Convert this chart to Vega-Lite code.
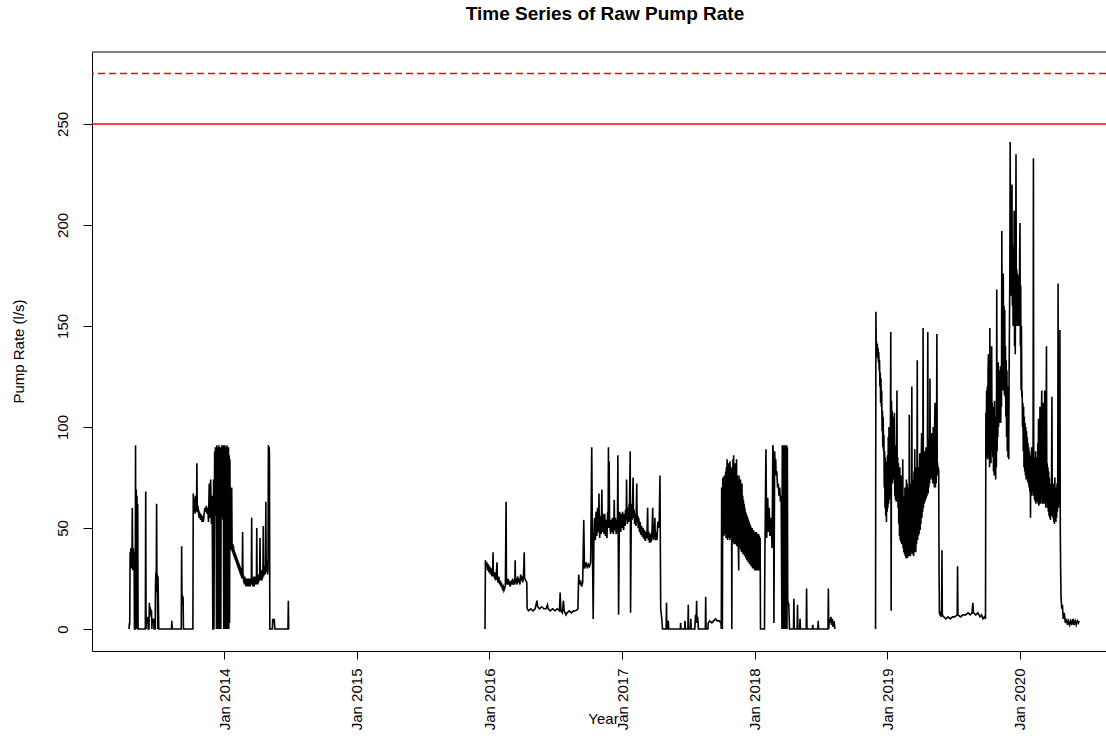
{
"$schema":"https://vega.github.io/schema/vega-lite/v6.json",
"autosize":{"type":"none"},
"padding":{"left":92,"top":52,"right":0,"bottom":85},
"width":1014,"height":599,
"background":"white",
"title":{"text":"Time Series of Raw Pump Rate","font":"Liberation Sans","fontSize":19,"fontWeight":"bold","color":"black","anchor":"middle","offset":27,"dx":6},
"config":{"view":{"stroke":null},"font":"Liberation Sans"},
"layer":[
{"data":{"values":[
{"t":"2013-04-13","v":0,"s":1},{"t":"2013-04-14","v":3,"s":1},{"t":"2013-04-15","v":2,"s":1},{"t":"2013-04-16","v":38,"s":1},{"t":"2013-04-17","v":30,"s":1},{"t":"2013-04-18","v":40,"s":1},{"t":"2013-04-19","v":31,"s":1},{"t":"2013-04-20","v":36,"s":1},{"t":"2013-04-21","v":30,"s":1},{"t":"2013-04-22","v":60,"s":1},{"t":"2013-04-23","v":36,"s":1},{"t":"2013-04-24","v":29,"s":1},{"t":"2013-04-25","v":40,"s":1},{"t":"2013-04-26","v":31,"s":1},{"t":"2013-04-27","v":38,"s":1},{"t":"2013-04-28","v":0,"s":1},{"t":"2013-04-30","v":0,"s":1},{"t":"2013-05-01","v":91,"s":1},{"t":"2013-05-02","v":0,"s":1},{"t":"2013-05-03","v":69,"s":1},{"t":"2013-05-04","v":2,"s":1},{"t":"2013-05-05","v":66,"s":1},{"t":"2013-05-06","v":0,"s":1},{"t":"2013-05-07","v":62,"s":1},{"t":"2013-05-08","v":0,"s":1},{"t":"2013-05-28","v":0,"s":1},{"t":"2013-05-29","v":68,"s":1},{"t":"2013-05-30","v":0,"s":1},{"t":"2013-05-31","v":5,"s":1},{"t":"2013-06-02","v":4,"s":1},{"t":"2013-06-04","v":6,"s":1},{"t":"2013-06-05","v":0,"s":1},{"t":"2013-06-07","v":0,"s":1},{"t":"2013-06-08","v":13,"s":1},{"t":"2013-06-09","v":8,"s":1},{"t":"2013-06-10","v":11,"s":1},{"t":"2013-06-11","v":7,"s":1},{"t":"2013-06-12","v":10,"s":1},{"t":"2013-06-13","v":6,"s":1},{"t":"2013-06-14","v":9,"s":1},{"t":"2013-06-15","v":0,"s":1},{"t":"2013-06-16","v":5,"s":1},{"t":"2013-06-18","v":4,"s":1},{"t":"2013-06-20","v":5,"s":1},{"t":"2013-06-21","v":0,"s":1},{"t":"2013-06-24","v":0,"s":1},{"t":"2013-06-25","v":22,"s":1},{"t":"2013-06-26","v":28,"s":1},{"t":"2013-06-27","v":18,"s":1},{"t":"2013-06-28","v":62,"s":1},{"t":"2013-06-29","v":20,"s":1},{"t":"2013-06-30","v":27,"s":1},{"t":"2013-07-01","v":0,"s":1},{"t":"2013-07-02","v":26,"s":1},{"t":"2013-07-03","v":12,"s":1},{"t":"2013-07-04","v":0,"s":1},{"t":"2013-08-08","v":0,"s":1},{"t":"2013-08-09","v":4,"s":1},{"t":"2013-08-10","v":0,"s":1},{"t":"2013-09-04","v":0,"s":1},{"t":"2013-09-05","v":41,"s":1},{"t":"2013-09-06","v":14,"s":1},{"t":"2013-09-07","v":17,"s":1},{"t":"2013-09-08","v":12,"s":1},{"t":"2013-09-09","v":16,"s":1},{"t":"2013-09-10","v":0,"s":1},{"t":"2013-10-06","v":0,"s":1},{"t":"2013-10-07","v":67,"s":1},{"t":"2013-10-08","v":60,"s":1},{"t":"2013-10-09","v":65,"s":1},{"t":"2013-10-10","v":58,"s":1},{"t":"2013-10-11","v":62,"s":1},{"t":"2013-10-12","v":57,"s":1},{"t":"2013-10-13","v":66,"s":1},{"t":"2013-10-14","v":59,"s":1},{"t":"2013-10-15","v":63,"s":1},{"t":"2013-10-16","v":58,"s":1},{"t":"2013-10-17","v":82,"s":1},{"t":"2013-10-18","v":60,"s":1},{"t":"2013-10-19","v":58,"s":1},{"t":"2013-10-20","v":61,"s":1},{"t":"2013-10-21","v":57,"s":1},{"t":"2013-10-22","v":59,"s":1},{"t":"2013-10-23","v":55,"s":1},{"t":"2013-10-24","v":58,"s":1},{"t":"2013-10-25","v":56,"s":1},{"t":"2013-10-26","v":57,"s":1},{"t":"2013-10-27","v":54,"s":1},{"t":"2013-10-28","v":57,"s":1},{"t":"2013-10-29","v":55,"s":1},{"t":"2013-10-30","v":56,"s":1},{"t":"2013-10-31","v":53,"s":1},{"t":"2013-11-02","v":56,"s":1},{"t":"2013-11-04","v":53,"s":1},{"t":"2013-11-06","v":57,"s":1},{"t":"2013-11-08","v":60,"s":1},{"t":"2013-11-10","v":58,"s":1},{"t":"2013-11-12","v":61,"s":1},{"t":"2013-11-14","v":57,"s":1},{"t":"2013-11-16","v":60,"s":1},{"t":"2013-11-18","v":53,"s":1},{"t":"2013-11-20","v":72,"s":1},{"t":"2013-11-22","v":55,"s":1},{"t":"2013-11-24","v":74,"s":1},{"t":"2013-11-26","v":52,"s":1},{"t":"2013-11-28","v":66,"s":1},{"t":"2013-11-30","v":0,"s":1},{"t":"2013-12-01","v":0,"s":1},{"t":"2013-12-02","v":74,"s":1},{"t":"2013-12-03","v":0,"s":1},{"t":"2013-12-05","v":88,"s":1},{"t":"2013-12-06","v":56,"s":1},{"t":"2013-12-07","v":90,"s":1},{"t":"2013-12-08","v":58,"s":1},{"t":"2013-12-09","v":89,"s":1},{"t":"2013-12-10","v":0,"s":1},{"t":"2013-12-11","v":91,"s":1},{"t":"2013-12-12","v":0,"s":1},{"t":"2013-12-13","v":89,"s":1},{"t":"2013-12-14","v":0,"s":1},{"t":"2013-12-15","v":90,"s":1},{"t":"2013-12-16","v":0,"s":1},{"t":"2013-12-17","v":91,"s":1},{"t":"2013-12-18","v":2,"s":1},{"t":"2013-12-19","v":88,"s":1},{"t":"2013-12-20","v":0,"s":1},{"t":"2013-12-21","v":90,"s":1},{"t":"2013-12-22","v":0,"s":1},{"t":"2013-12-23","v":89,"s":1},{"t":"2013-12-24","v":55,"s":1},{"t":"2013-12-25","v":91,"s":1},{"t":"2013-12-26","v":57,"s":1},{"t":"2013-12-27","v":90,"s":1},{"t":"2013-12-28","v":54,"s":1},{"t":"2013-12-29","v":91,"s":1},{"t":"2013-12-30","v":0,"s":1},{"t":"2013-12-31","v":90,"s":1},{"t":"2014-01-01","v":0,"s":1},{"t":"2014-01-02","v":91,"s":1},{"t":"2014-01-03","v":0,"s":1},{"t":"2014-01-04","v":88,"s":1},{"t":"2014-01-05","v":0,"s":1},{"t":"2014-01-06","v":90,"s":1},{"t":"2014-01-07","v":0,"s":1},{"t":"2014-01-08","v":91,"s":1},{"t":"2014-01-09","v":0,"s":1},{"t":"2014-01-10","v":89,"s":1},{"t":"2014-01-11","v":0,"s":1},{"t":"2014-01-12","v":90,"s":1},{"t":"2014-01-13","v":0,"s":1},{"t":"2014-01-14","v":86,"s":1},{"t":"2014-01-15","v":3,"s":1},{"t":"2014-01-16","v":84,"s":1},{"t":"2014-01-17","v":43,"s":1},{"t":"2014-01-18","v":40,"s":1},{"t":"2014-01-19","v":45,"s":1},{"t":"2014-01-20","v":39,"s":1},{"t":"2014-01-21","v":70,"s":1},{"t":"2014-01-22","v":41,"s":1},{"t":"2014-01-23","v":38,"s":1},{"t":"2014-01-24","v":42,"s":1},{"t":"2014-01-25","v":37,"s":1},{"t":"2014-01-26","v":41,"s":1},{"t":"2014-01-27","v":36,"s":1},{"t":"2014-01-28","v":39,"s":1},{"t":"2014-01-29","v":35,"s":1},{"t":"2014-01-30","v":38,"s":1},{"t":"2014-01-31","v":34,"s":1},{"t":"2014-02-01","v":37,"s":1},{"t":"2014-02-02","v":33,"s":1},{"t":"2014-02-03","v":36,"s":1},{"t":"2014-02-04","v":32,"s":1},{"t":"2014-02-05","v":35,"s":1},{"t":"2014-02-06","v":31,"s":1},{"t":"2014-02-07","v":34,"s":1},{"t":"2014-02-08","v":30,"s":1},{"t":"2014-02-09","v":33,"s":1},{"t":"2014-02-10","v":29,"s":1},{"t":"2014-02-11","v":32,"s":1},{"t":"2014-02-12","v":28,"s":1},{"t":"2014-02-13","v":31,"s":1},{"t":"2014-02-14","v":27,"s":1},{"t":"2014-02-15","v":30,"s":1},{"t":"2014-02-16","v":26,"s":1},{"t":"2014-02-17","v":29,"s":1},{"t":"2014-02-18","v":25,"s":1},{"t":"2014-02-19","v":28,"s":1},{"t":"2014-02-20","v":48,"s":1},{"t":"2014-02-21","v":25,"s":1},{"t":"2014-02-22","v":27,"s":1},{"t":"2014-02-23","v":23,"s":1},{"t":"2014-02-24","v":26,"s":1},{"t":"2014-02-25","v":22,"s":1},{"t":"2014-02-26","v":26,"s":1},{"t":"2014-02-27","v":22,"s":1},{"t":"2014-02-28","v":25,"s":1},{"t":"2014-03-01","v":21,"s":1},{"t":"2014-03-02","v":25,"s":1},{"t":"2014-03-03","v":21,"s":1},{"t":"2014-03-04","v":24,"s":1},{"t":"2014-03-05","v":21,"s":1},{"t":"2014-03-06","v":25,"s":1},{"t":"2014-03-07","v":21,"s":1},{"t":"2014-03-08","v":24,"s":1},{"t":"2014-03-09","v":21,"s":1},{"t":"2014-03-10","v":25,"s":1},{"t":"2014-03-11","v":22,"s":1},{"t":"2014-03-12","v":24,"s":1},{"t":"2014-03-13","v":21,"s":1},{"t":"2014-03-14","v":25,"s":1},{"t":"2014-03-15","v":22,"s":1},{"t":"2014-03-16","v":24,"s":1},{"t":"2014-03-17","v":55,"s":1},{"t":"2014-03-18","v":22,"s":1},{"t":"2014-03-19","v":25,"s":1},{"t":"2014-03-20","v":21,"s":1},{"t":"2014-03-21","v":24,"s":1},{"t":"2014-03-22","v":22,"s":1},{"t":"2014-03-23","v":26,"s":1},{"t":"2014-03-24","v":21,"s":1},{"t":"2014-03-25","v":25,"s":1},{"t":"2014-03-26","v":22,"s":1},{"t":"2014-03-27","v":26,"s":1},{"t":"2014-03-28","v":23,"s":1},{"t":"2014-03-29","v":25,"s":1},{"t":"2014-03-30","v":22,"s":1},{"t":"2014-03-31","v":50,"s":1},{"t":"2014-04-01","v":23,"s":1},{"t":"2014-04-02","v":27,"s":1},{"t":"2014-04-03","v":22,"s":1},{"t":"2014-04-04","v":26,"s":1},{"t":"2014-04-05","v":23,"s":1},{"t":"2014-04-06","v":27,"s":1},{"t":"2014-04-07","v":24,"s":1},{"t":"2014-04-08","v":28,"s":1},{"t":"2014-04-09","v":45,"s":1},{"t":"2014-04-10","v":24,"s":1},{"t":"2014-04-11","v":28,"s":1},{"t":"2014-04-12","v":25,"s":1},{"t":"2014-04-13","v":29,"s":1},{"t":"2014-04-14","v":24,"s":1},{"t":"2014-04-15","v":28,"s":1},{"t":"2014-04-16","v":25,"s":1},{"t":"2014-04-17","v":30,"s":1},{"t":"2014-04-18","v":51,"s":1},{"t":"2014-04-19","v":26,"s":1},{"t":"2014-04-20","v":30,"s":1},{"t":"2014-04-21","v":27,"s":1},{"t":"2014-04-22","v":31,"s":1},{"t":"2014-04-23","v":27,"s":1},{"t":"2014-04-24","v":32,"s":1},{"t":"2014-04-25","v":63,"s":1},{"t":"2014-04-26","v":28,"s":1},{"t":"2014-04-27","v":33,"s":1},{"t":"2014-04-28","v":28,"s":1},{"t":"2014-04-29","v":34,"s":1},{"t":"2014-04-30","v":27,"s":1},{"t":"2014-05-01","v":30,"s":1},{"t":"2014-05-02","v":91,"s":1},{"t":"2014-05-03","v":85,"s":1},{"t":"2014-05-04","v":90,"s":1},{"t":"2014-05-05","v":86,"s":1},{"t":"2014-05-06","v":0,"s":1},{"t":"2014-05-13","v":0,"s":1},{"t":"2014-05-14","v":5,"s":1},{"t":"2014-05-16","v":3,"s":1},{"t":"2014-05-18","v":5,"s":1},{"t":"2014-05-20","v":0,"s":1},{"t":"2014-06-25","v":0,"s":1},{"t":"2014-06-26","v":14,"s":1},{"t":"2014-06-27","v":0,"s":1},{"t":"2014-06-28","v":0,"s":1},
{"t":"2015-12-20","v":0,"s":2},{"t":"2015-12-21","v":34,"s":2},{"t":"2015-12-23","v":31,"s":2},{"t":"2015-12-25","v":33,"s":2},{"t":"2015-12-27","v":29,"s":2},{"t":"2015-12-29","v":32,"s":2},{"t":"2015-12-31","v":28,"s":2},{"t":"2016-01-02","v":31,"s":2},{"t":"2016-01-04","v":27,"s":2},{"t":"2016-01-06","v":30,"s":2},{"t":"2016-01-08","v":26,"s":2},{"t":"2016-01-10","v":29,"s":2},{"t":"2016-01-11","v":38,"s":2},{"t":"2016-01-12","v":27,"s":2},{"t":"2016-01-14","v":26,"s":2},{"t":"2016-01-16","v":28,"s":2},{"t":"2016-01-18","v":24,"s":2},{"t":"2016-01-20","v":27,"s":2},{"t":"2016-01-22","v":33,"s":2},{"t":"2016-01-23","v":25,"s":2},{"t":"2016-01-25","v":23,"s":2},{"t":"2016-01-27","v":26,"s":2},{"t":"2016-01-29","v":22,"s":2},{"t":"2016-01-31","v":24,"s":2},{"t":"2016-02-02","v":21,"s":2},{"t":"2016-02-04","v":22,"s":2},{"t":"2016-02-06","v":20,"s":2},{"t":"2016-02-08","v":21,"s":2},{"t":"2016-02-10","v":19,"s":2},{"t":"2016-02-12","v":20,"s":2},{"t":"2016-02-14","v":22,"s":2},{"t":"2016-02-16","v":63,"s":2},{"t":"2016-02-17","v":24,"s":2},{"t":"2016-02-19","v":22,"s":2},{"t":"2016-02-21","v":25,"s":2},{"t":"2016-02-23","v":22,"s":2},{"t":"2016-02-25","v":24,"s":2},{"t":"2016-02-27","v":21,"s":2},{"t":"2016-03-01","v":23,"s":2},{"t":"2016-03-03","v":22,"s":2},{"t":"2016-03-05","v":25,"s":2},{"t":"2016-03-07","v":22,"s":2},{"t":"2016-03-09","v":24,"s":2},{"t":"2016-03-11","v":22,"s":2},{"t":"2016-03-12","v":34,"s":2},{"t":"2016-03-13","v":23,"s":2},{"t":"2016-03-15","v":25,"s":2},{"t":"2016-03-17","v":22,"s":2},{"t":"2016-03-19","v":26,"s":2},{"t":"2016-03-21","v":23,"s":2},{"t":"2016-03-23","v":25,"s":2},{"t":"2016-03-25","v":22,"s":2},{"t":"2016-03-27","v":27,"s":2},{"t":"2016-03-29","v":24,"s":2},{"t":"2016-03-31","v":26,"s":2},{"t":"2016-04-02","v":23,"s":2},{"t":"2016-04-04","v":27,"s":2},{"t":"2016-04-06","v":38,"s":2},{"t":"2016-04-07","v":25,"s":2},{"t":"2016-04-10","v":24,"s":2},{"t":"2016-04-13","v":23,"s":2},{"t":"2016-04-14","v":10,"s":2},{"t":"2016-04-18","v":9,"s":2},{"t":"2016-04-24","v":10,"s":2},{"t":"2016-04-30","v":9,"s":2},{"t":"2016-05-06","v":10,"s":2},{"t":"2016-05-11","v":14,"s":2},{"t":"2016-05-13","v":11,"s":2},{"t":"2016-05-18","v":10,"s":2},{"t":"2016-05-24","v":11,"s":2},{"t":"2016-05-30","v":10,"s":2},{"t":"2016-06-05","v":10,"s":2},{"t":"2016-06-09","v":12,"s":2},{"t":"2016-06-11","v":10,"s":2},{"t":"2016-06-17","v":9,"s":2},{"t":"2016-06-23","v":10,"s":2},{"t":"2016-06-30","v":9,"s":2},{"t":"2016-07-06","v":10,"s":2},{"t":"2016-07-12","v":9,"s":2},{"t":"2016-07-14","v":18,"s":2},{"t":"2016-07-16","v":9,"s":2},{"t":"2016-07-20","v":8,"s":2},{"t":"2016-07-23","v":14,"s":2},{"t":"2016-07-25","v":9,"s":2},{"t":"2016-07-30","v":7,"s":2},{"t":"2016-08-02","v":8,"s":2},{"t":"2016-08-08","v":9,"s":2},{"t":"2016-08-14","v":8,"s":2},{"t":"2016-08-20","v":9,"s":2},{"t":"2016-08-26","v":9,"s":2},{"t":"2016-09-01","v":10,"s":2},{"t":"2016-09-03","v":27,"s":2},{"t":"2016-09-05","v":22,"s":2},{"t":"2016-09-08","v":24,"s":2},{"t":"2016-09-11","v":21,"s":2},{"t":"2016-09-14","v":23,"s":2},{"t":"2016-09-17","v":54,"s":2},{"t":"2016-09-19","v":30,"s":2},{"t":"2016-09-21","v":31,"s":2},{"t":"2016-09-24","v":33,"s":2},{"t":"2016-09-27","v":30,"s":2},{"t":"2016-09-30","v":32,"s":2},{"t":"2016-10-03","v":31,"s":2},{"t":"2016-10-06","v":33,"s":2},{"t":"2016-10-09","v":90,"s":2},{"t":"2016-10-11","v":40,"s":2},{"t":"2016-10-13","v":5,"s":2},{"t":"2016-10-15","v":45,"s":2},{"t":"2016-10-16","v":52,"s":2},{"t":"2016-10-17","v":55,"s":2},{"t":"2016-10-18","v":46,"s":2},{"t":"2016-10-19","v":44,"s":2},{"t":"2016-10-20","v":53,"s":2},{"t":"2016-10-21","v":58,"s":2},{"t":"2016-10-22","v":47,"s":2},{"t":"2016-10-23","v":46,"s":2},{"t":"2016-10-24","v":55,"s":2},{"t":"2016-10-25","v":60,"s":2},{"t":"2016-10-26","v":49,"s":2},{"t":"2016-10-27","v":48,"s":2},{"t":"2016-10-28","v":56,"s":2},{"t":"2016-10-29","v":67,"s":2},{"t":"2016-10-30","v":50,"s":2},{"t":"2016-10-31","v":45,"s":2},{"t":"2016-11-01","v":54,"s":2},{"t":"2016-11-02","v":56,"s":2},{"t":"2016-11-03","v":48,"s":2},{"t":"2016-11-04","v":47,"s":2},{"t":"2016-11-05","v":58,"s":2},{"t":"2016-11-06","v":69,"s":2},{"t":"2016-11-07","v":50,"s":2},{"t":"2016-11-08","v":48,"s":2},{"t":"2016-11-09","v":57,"s":2},{"t":"2016-11-10","v":55,"s":2},{"t":"2016-11-11","v":49,"s":2},{"t":"2016-11-12","v":47,"s":2},{"t":"2016-11-13","v":55,"s":2},{"t":"2016-11-14","v":57,"s":2},{"t":"2016-11-15","v":48,"s":2},{"t":"2016-11-16","v":46,"s":2},{"t":"2016-11-17","v":54,"s":2},{"t":"2016-11-18","v":52,"s":2},{"t":"2016-11-19","v":46,"s":2},{"t":"2016-11-20","v":45,"s":2},{"t":"2016-11-21","v":53,"s":2},{"t":"2016-11-22","v":58,"s":2},{"t":"2016-11-23","v":50,"s":2},{"t":"2016-11-24","v":90,"s":2},{"t":"2016-11-25","v":50,"s":2},{"t":"2016-11-26","v":83,"s":2},{"t":"2016-11-27","v":55,"s":2},{"t":"2016-11-28","v":52,"s":2},{"t":"2016-11-29","v":49,"s":2},{"t":"2016-11-30","v":47,"s":2},{"t":"2016-12-01","v":53,"s":2},{"t":"2016-12-02","v":54,"s":2},{"t":"2016-12-03","v":49,"s":2},{"t":"2016-12-04","v":48,"s":2},{"t":"2016-12-05","v":55,"s":2},{"t":"2016-12-06","v":52,"s":2},{"t":"2016-12-07","v":48,"s":2},{"t":"2016-12-08","v":47,"s":2},{"t":"2016-12-09","v":53,"s":2},{"t":"2016-12-10","v":64,"s":2},{"t":"2016-12-11","v":50,"s":2},{"t":"2016-12-12","v":49,"s":2},{"t":"2016-12-13","v":55,"s":2},{"t":"2016-12-14","v":53,"s":2},{"t":"2016-12-15","v":48,"s":2},{"t":"2016-12-16","v":47,"s":2},{"t":"2016-12-17","v":54,"s":2},{"t":"2016-12-18","v":51,"s":2},{"t":"2016-12-19","v":56,"s":2},{"t":"2016-12-20","v":86,"s":2},{"t":"2016-12-22","v":7,"s":2},{"t":"2016-12-24","v":50,"s":2},{"t":"2016-12-25","v":58,"s":2},{"t":"2016-12-26","v":56,"s":2},{"t":"2016-12-27","v":50,"s":2},{"t":"2016-12-28","v":48,"s":2},{"t":"2016-12-29","v":55,"s":2},{"t":"2016-12-30","v":57,"s":2},{"t":"2016-12-31","v":51,"s":2},{"t":"2017-01-01","v":50,"s":2},{"t":"2017-01-02","v":58,"s":2},{"t":"2017-01-03","v":55,"s":2},{"t":"2017-01-04","v":50,"s":2},{"t":"2017-01-05","v":49,"s":2},{"t":"2017-01-06","v":56,"s":2},{"t":"2017-01-07","v":57,"s":2},{"t":"2017-01-08","v":52,"s":2},{"t":"2017-01-09","v":51,"s":2},{"t":"2017-01-10","v":59,"s":2},{"t":"2017-01-11","v":54,"s":2},{"t":"2017-01-12","v":56,"s":2},{"t":"2017-01-13","v":74,"s":2},{"t":"2017-01-14","v":55,"s":2},{"t":"2017-01-15","v":52,"s":2},{"t":"2017-01-16","v":60,"s":2},{"t":"2017-01-17","v":58,"s":2},{"t":"2017-01-18","v":53,"s":2},{"t":"2017-01-19","v":54,"s":2},{"t":"2017-01-20","v":62,"s":2},{"t":"2017-01-21","v":60,"s":2},{"t":"2017-01-23","v":88,"s":2},{"t":"2017-01-24","v":8,"s":2},{"t":"2017-01-26","v":58,"s":2},{"t":"2017-01-27","v":62,"s":2},{"t":"2017-01-28","v":54,"s":2},{"t":"2017-01-29","v":60,"s":2},{"t":"2017-01-31","v":75,"s":2},{"t":"2017-02-01","v":57,"s":2},{"t":"2017-02-02","v":55,"s":2},{"t":"2017-02-03","v":59,"s":2},{"t":"2017-02-04","v":52,"s":2},{"t":"2017-02-05","v":56,"s":2},{"t":"2017-02-06","v":57,"s":2},{"t":"2017-02-07","v":52,"s":2},{"t":"2017-02-08","v":51,"s":2},{"t":"2017-02-10","v":72,"s":2},{"t":"2017-02-11","v":54,"s":2},{"t":"2017-02-12","v":53,"s":2},{"t":"2017-02-13","v":56,"s":2},{"t":"2017-02-14","v":50,"s":2},{"t":"2017-02-15","v":55,"s":2},{"t":"2017-02-16","v":54,"s":2},{"t":"2017-02-17","v":49,"s":2},{"t":"2017-02-18","v":48,"s":2},{"t":"2017-02-19","v":53,"s":2},{"t":"2017-02-20","v":52,"s":2},{"t":"2017-02-21","v":47,"s":2},{"t":"2017-02-22","v":47,"s":2},{"t":"2017-02-23","v":51,"s":2},{"t":"2017-02-24","v":50,"s":2},{"t":"2017-02-25","v":46,"s":2},{"t":"2017-02-26","v":46,"s":2},{"t":"2017-02-27","v":50,"s":2},{"t":"2017-02-28","v":49,"s":2},{"t":"2017-03-01","v":45,"s":2},{"t":"2017-03-02","v":45,"s":2},{"t":"2017-03-03","v":49,"s":2},{"t":"2017-03-04","v":48,"s":2},{"t":"2017-03-05","v":44,"s":2},{"t":"2017-03-06","v":44,"s":2},{"t":"2017-03-07","v":48,"s":2},{"t":"2017-03-08","v":47,"s":2},{"t":"2017-03-10","v":45,"s":2},{"t":"2017-03-12","v":60,"s":2},{"t":"2017-03-13","v":46,"s":2},{"t":"2017-03-14","v":44,"s":2},{"t":"2017-03-15","v":48,"s":2},{"t":"2017-03-16","v":47,"s":2},{"t":"2017-03-17","v":43,"s":2},{"t":"2017-03-18","v":43,"s":2},{"t":"2017-03-19","v":47,"s":2},{"t":"2017-03-20","v":46,"s":2},{"t":"2017-03-21","v":43,"s":2},{"t":"2017-03-22","v":44,"s":2},{"t":"2017-03-23","v":48,"s":2},{"t":"2017-03-24","v":47,"s":2},{"t":"2017-03-26","v":60,"s":2},{"t":"2017-03-27","v":45,"s":2},{"t":"2017-03-28","v":44,"s":2},{"t":"2017-03-29","v":48,"s":2},{"t":"2017-03-30","v":46,"s":2},{"t":"2017-04-01","v":55,"s":2},{"t":"2017-04-02","v":45,"s":2},{"t":"2017-04-03","v":44,"s":2},{"t":"2017-04-04","v":48,"s":2},{"t":"2017-04-05","v":47,"s":2},{"t":"2017-04-06","v":44,"s":2},{"t":"2017-04-07","v":45,"s":2},{"t":"2017-04-09","v":53,"s":2},{"t":"2017-04-11","v":50,"s":2},{"t":"2017-04-13","v":54,"s":2},{"t":"2017-04-15","v":76,"s":2},{"t":"2017-04-17","v":10,"s":2},{"t":"2017-04-20","v":5,"s":2},{"t":"2017-04-22","v":0,"s":2},{"t":"2017-05-02","v":0,"s":2},{"t":"2017-05-03","v":13,"s":2},{"t":"2017-05-04","v":0,"s":2},{"t":"2017-05-07","v":0,"s":2},{"t":"2017-05-08","v":4,"s":2},{"t":"2017-05-09","v":0,"s":2},{"t":"2017-06-10","v":0,"s":2},{"t":"2017-06-11","v":3,"s":2},{"t":"2017-06-12","v":0,"s":2},{"t":"2017-06-22","v":0,"s":2},{"t":"2017-06-23","v":4,"s":2},{"t":"2017-06-24","v":0,"s":2},{"t":"2017-07-01","v":0,"s":2},{"t":"2017-07-02","v":12,"s":2},{"t":"2017-07-03","v":0,"s":2},{"t":"2017-07-08","v":0,"s":2},{"t":"2017-07-09","v":5,"s":2},{"t":"2017-07-10","v":0,"s":2},{"t":"2017-07-20","v":0,"s":2},{"t":"2017-07-22","v":7,"s":2},{"t":"2017-07-24","v":5,"s":2},{"t":"2017-07-25","v":14,"s":2},{"t":"2017-07-26","v":3,"s":2},{"t":"2017-07-28","v":6,"s":2},{"t":"2017-07-30","v":0,"s":2},{"t":"2017-08-18","v":0,"s":2},{"t":"2017-08-19","v":16,"s":2},{"t":"2017-08-20","v":0,"s":2},{"t":"2017-08-25","v":0,"s":2},{"t":"2017-08-26","v":3,"s":2},{"t":"2017-08-30","v":4,"s":2},{"t":"2017-09-05","v":3,"s":2},{"t":"2017-09-10","v":4,"s":2},{"t":"2017-09-15","v":5,"s":2},{"t":"2017-09-20","v":4,"s":2},{"t":"2017-09-25","v":4,"s":2},{"t":"2017-09-30","v":3,"s":2},{"t":"2017-10-01","v":0,"s":2},{"t":"2017-10-02","v":70,"s":2},{"t":"2017-10-03","v":48,"s":2},{"t":"2017-10-04","v":0,"s":2},{"t":"2017-10-05","v":75,"s":2},{"t":"2017-10-06","v":47,"s":2},{"t":"2017-10-07","v":74,"s":2},{"t":"2017-10-08","v":46,"s":2},{"t":"2017-10-09","v":76,"s":2},{"t":"2017-10-10","v":48,"s":2},{"t":"2017-10-11","v":72,"s":2},{"t":"2017-10-12","v":47,"s":2},{"t":"2017-10-13","v":78,"s":2},{"t":"2017-10-14","v":45,"s":2},{"t":"2017-10-15","v":80,"s":2},{"t":"2017-10-16","v":46,"s":2},{"t":"2017-10-17","v":84,"s":2},{"t":"2017-10-18","v":44,"s":2},{"t":"2017-10-19","v":79,"s":2},{"t":"2017-10-20","v":46,"s":2},{"t":"2017-10-21","v":82,"s":2},{"t":"2017-10-22","v":45,"s":2},{"t":"2017-10-23","v":78,"s":2},{"t":"2017-10-24","v":44,"s":2},{"t":"2017-10-25","v":83,"s":2},{"t":"2017-10-26","v":46,"s":2},{"t":"2017-10-27","v":80,"s":2},{"t":"2017-10-28","v":45,"s":2},{"t":"2017-10-29","v":79,"s":2},{"t":"2017-10-30","v":0,"s":2},{"t":"2017-10-31","v":80,"s":2},{"t":"2017-11-01","v":44,"s":2},{"t":"2017-11-02","v":84,"s":2},{"t":"2017-11-03","v":43,"s":2},{"t":"2017-11-04","v":86,"s":2},{"t":"2017-11-05","v":42,"s":2},{"t":"2017-11-06","v":80,"s":2},{"t":"2017-11-07","v":44,"s":2},{"t":"2017-11-08","v":82,"s":2},{"t":"2017-11-09","v":42,"s":2},{"t":"2017-11-10","v":78,"s":2},{"t":"2017-11-11","v":43,"s":2},{"t":"2017-11-12","v":84,"s":2},{"t":"2017-11-13","v":41,"s":2},{"t":"2017-11-14","v":76,"s":2},{"t":"2017-11-15","v":42,"s":2},{"t":"2017-11-16","v":74,"s":2},{"t":"2017-11-17","v":40,"s":2},{"t":"2017-11-18","v":29,"s":2},{"t":"2017-11-19","v":76,"s":2},{"t":"2017-11-20","v":41,"s":2},{"t":"2017-11-21","v":72,"s":2},{"t":"2017-11-22","v":40,"s":2},{"t":"2017-11-23","v":74,"s":2},{"t":"2017-11-24","v":39,"s":2},{"t":"2017-11-25","v":70,"s":2},{"t":"2017-11-26","v":38,"s":2},{"t":"2017-11-27","v":72,"s":2},{"t":"2017-11-28","v":38,"s":2},{"t":"2017-11-29","v":66,"s":2},{"t":"2017-11-30","v":37,"s":2},{"t":"2017-12-01","v":64,"s":2},{"t":"2017-12-02","v":37,"s":2},{"t":"2017-12-03","v":62,"s":2},{"t":"2017-12-04","v":36,"s":2},{"t":"2017-12-05","v":60,"s":2},{"t":"2017-12-06","v":36,"s":2},{"t":"2017-12-07","v":58,"s":2},{"t":"2017-12-08","v":35,"s":2},{"t":"2017-12-09","v":57,"s":2},{"t":"2017-12-10","v":34,"s":2},{"t":"2017-12-11","v":56,"s":2},{"t":"2017-12-12","v":34,"s":2},{"t":"2017-12-13","v":55,"s":2},{"t":"2017-12-14","v":33,"s":2},{"t":"2017-12-15","v":54,"s":2},{"t":"2017-12-16","v":33,"s":2},{"t":"2017-12-17","v":53,"s":2},{"t":"2017-12-18","v":32,"s":2},{"t":"2017-12-19","v":52,"s":2},{"t":"2017-12-20","v":32,"s":2},{"t":"2017-12-21","v":51,"s":2},{"t":"2017-12-22","v":31,"s":2},{"t":"2017-12-23","v":50,"s":2},{"t":"2017-12-24","v":31,"s":2},{"t":"2017-12-25","v":50,"s":2},{"t":"2017-12-26","v":30,"s":2},{"t":"2017-12-27","v":49,"s":2},{"t":"2017-12-28","v":30,"s":2},{"t":"2017-12-29","v":49,"s":2},{"t":"2017-12-30","v":30,"s":2},{"t":"2017-12-31","v":48,"s":2},{"t":"2018-01-01","v":29,"s":2},{"t":"2018-01-02","v":48,"s":2},{"t":"2018-01-03","v":30,"s":2},{"t":"2018-01-04","v":47,"s":2},{"t":"2018-01-05","v":29,"s":2},{"t":"2018-01-06","v":48,"s":2},{"t":"2018-01-07","v":30,"s":2},{"t":"2018-01-08","v":47,"s":2},{"t":"2018-01-09","v":29,"s":2},{"t":"2018-01-10","v":46,"s":2},{"t":"2018-01-11","v":30,"s":2},{"t":"2018-01-12","v":47,"s":2},{"t":"2018-01-13","v":29,"s":2},{"t":"2018-01-14","v":46,"s":2},{"t":"2018-01-15","v":30,"s":2},{"t":"2018-01-16","v":45,"s":2},{"t":"2018-01-17","v":0,"s":2},{"t":"2018-01-28","v":0,"s":2},{"t":"2018-01-29","v":35,"s":2},{"t":"2018-02-01","v":89,"s":2},{"t":"2018-02-03","v":45,"s":2},{"t":"2018-02-06","v":65,"s":2},{"t":"2018-02-08","v":48,"s":2},{"t":"2018-02-10","v":60,"s":2},{"t":"2018-02-12","v":46,"s":2},{"t":"2018-02-15","v":55,"s":2},{"t":"2018-02-18","v":40,"s":2},{"t":"2018-02-20","v":91,"s":2},{"t":"2018-02-22","v":85,"s":2},{"t":"2018-02-23","v":3,"s":2},{"t":"2018-02-25","v":88,"s":2},{"t":"2018-02-26","v":82,"s":2},{"t":"2018-02-28","v":84,"s":2},{"t":"2018-03-01","v":76,"s":2},{"t":"2018-03-03","v":78,"s":2},{"t":"2018-03-05","v":70,"s":2},{"t":"2018-03-07","v":72,"s":2},{"t":"2018-03-09","v":66,"s":2},{"t":"2018-03-11","v":70,"s":2},{"t":"2018-03-13","v":63,"s":2},{"t":"2018-03-15","v":66,"s":2},{"t":"2018-03-17","v":0,"s":2},{"t":"2018-03-18","v":91,"s":2},{"t":"2018-03-19","v":0,"s":2},{"t":"2018-03-20","v":90,"s":2},{"t":"2018-03-21","v":0,"s":2},{"t":"2018-03-22","v":91,"s":2},{"t":"2018-03-23","v":0,"s":2},{"t":"2018-03-24","v":90,"s":2},{"t":"2018-03-25","v":0,"s":2},{"t":"2018-03-26","v":91,"s":2},{"t":"2018-03-27","v":0,"s":2},{"t":"2018-03-28","v":90,"s":2},{"t":"2018-03-29","v":0,"s":2},{"t":"2018-03-30","v":91,"s":2},{"t":"2018-03-31","v":0,"s":2},{"t":"2018-04-01","v":90,"s":2},{"t":"2018-04-02","v":14,"s":2},{"t":"2018-04-05","v":12,"s":2},{"t":"2018-04-07","v":0,"s":2},{"t":"2018-04-18","v":0,"s":2},{"t":"2018-04-19","v":15,"s":2},{"t":"2018-04-20","v":0,"s":2},{"t":"2018-04-28","v":0,"s":2},{"t":"2018-04-29","v":12,"s":2},{"t":"2018-04-30","v":0,"s":2},{"t":"2018-05-05","v":0,"s":2},{"t":"2018-05-06","v":5,"s":2},{"t":"2018-05-07","v":0,"s":2},{"t":"2018-05-23","v":0,"s":2},{"t":"2018-05-24","v":20,"s":2},{"t":"2018-05-25","v":0,"s":2},{"t":"2018-06-09","v":0,"s":2},{"t":"2018-06-10","v":2,"s":2},{"t":"2018-06-11","v":0,"s":2},{"t":"2018-06-24","v":0,"s":2},{"t":"2018-06-25","v":4,"s":2},{"t":"2018-06-26","v":0,"s":2},{"t":"2018-07-22","v":0,"s":2},{"t":"2018-07-23","v":20,"s":2},{"t":"2018-07-24","v":0,"s":2},{"t":"2018-07-26","v":5,"s":2},{"t":"2018-07-28","v":3,"s":2},{"t":"2018-07-30","v":6,"s":2},{"t":"2018-08-01","v":2,"s":2},{"t":"2018-08-03","v":5,"s":2},{"t":"2018-08-05","v":1,"s":2},{"t":"2018-08-07","v":4,"s":2},{"t":"2018-08-09","v":2,"s":2},{"t":"2018-08-10","v":0,"s":2},
{"t":"2018-11-30","v":0,"s":3},{"t":"2018-12-01","v":157,"s":3},{"t":"2018-12-02","v":138,"s":3},{"t":"2018-12-03","v":142,"s":3},{"t":"2018-12-04","v":135,"s":3},{"t":"2018-12-05","v":141,"s":3},{"t":"2018-12-06","v":134,"s":3},{"t":"2018-12-07","v":139,"s":3},{"t":"2018-12-08","v":132,"s":3},{"t":"2018-12-09","v":137,"s":3},{"t":"2018-12-10","v":128,"s":3},{"t":"2018-12-11","v":133,"s":3},{"t":"2018-12-12","v":120,"s":3},{"t":"2018-12-13","v":127,"s":3},{"t":"2018-12-14","v":112,"s":3},{"t":"2018-12-15","v":124,"s":3},{"t":"2018-12-16","v":110,"s":3},{"t":"2018-12-17","v":118,"s":3},{"t":"2018-12-18","v":98,"s":3},{"t":"2018-12-19","v":108,"s":3},{"t":"2018-12-20","v":90,"s":3},{"t":"2018-12-21","v":105,"s":3},{"t":"2018-12-22","v":88,"s":3},{"t":"2018-12-23","v":96,"s":3},{"t":"2018-12-24","v":70,"s":3},{"t":"2018-12-25","v":88,"s":3},{"t":"2018-12-26","v":60,"s":3},{"t":"2018-12-27","v":85,"s":3},{"t":"2018-12-28","v":56,"s":3},{"t":"2018-12-29","v":83,"s":3},{"t":"2018-12-30","v":53,"s":3},{"t":"2018-12-31","v":78,"s":3},{"t":"2019-01-01","v":58,"s":3},{"t":"2019-01-02","v":86,"s":3},{"t":"2019-01-03","v":60,"s":3},{"t":"2019-01-04","v":95,"s":3},{"t":"2019-01-05","v":62,"s":3},{"t":"2019-01-06","v":100,"s":3},{"t":"2019-01-07","v":64,"s":3},{"t":"2019-01-08","v":98,"s":3},{"t":"2019-01-09","v":66,"s":3},{"t":"2019-01-10","v":102,"s":3},{"t":"2019-01-11","v":147,"s":3},{"t":"2019-01-12","v":9,"s":3},{"t":"2019-01-13","v":113,"s":3},{"t":"2019-01-14","v":74,"s":3},{"t":"2019-01-15","v":108,"s":3},{"t":"2019-01-16","v":72,"s":3},{"t":"2019-01-17","v":105,"s":3},{"t":"2019-01-18","v":74,"s":3},{"t":"2019-01-19","v":100,"s":3},{"t":"2019-01-20","v":88,"s":3},{"t":"2019-01-21","v":107,"s":3},{"t":"2019-01-22","v":66,"s":3},{"t":"2019-01-23","v":91,"s":3},{"t":"2019-01-24","v":64,"s":3},{"t":"2019-01-25","v":90,"s":3},{"t":"2019-01-26","v":63,"s":3},{"t":"2019-01-27","v":88,"s":3},{"t":"2019-01-28","v":118,"s":3},{"t":"2019-01-29","v":64,"s":3},{"t":"2019-01-30","v":85,"s":3},{"t":"2019-01-31","v":60,"s":3},{"t":"2019-02-01","v":82,"s":3},{"t":"2019-02-02","v":52,"s":3},{"t":"2019-02-03","v":78,"s":3},{"t":"2019-02-04","v":46,"s":3},{"t":"2019-02-05","v":80,"s":3},{"t":"2019-02-06","v":44,"s":3},{"t":"2019-02-07","v":74,"s":3},{"t":"2019-02-08","v":43,"s":3},{"t":"2019-02-09","v":76,"s":3},{"t":"2019-02-10","v":42,"s":3},{"t":"2019-02-11","v":70,"s":3},{"t":"2019-02-12","v":44,"s":3},{"t":"2019-02-13","v":84,"s":3},{"t":"2019-02-14","v":40,"s":3},{"t":"2019-02-15","v":66,"s":3},{"t":"2019-02-16","v":38,"s":3},{"t":"2019-02-17","v":64,"s":3},{"t":"2019-02-18","v":37,"s":3},{"t":"2019-02-19","v":70,"s":3},{"t":"2019-02-20","v":36,"s":3},{"t":"2019-02-21","v":68,"s":3},{"t":"2019-02-22","v":35,"s":3},{"t":"2019-02-23","v":74,"s":3},{"t":"2019-02-24","v":36,"s":3},{"t":"2019-02-25","v":72,"s":3},{"t":"2019-02-26","v":35,"s":3},{"t":"2019-02-27","v":66,"s":3},{"t":"2019-02-28","v":37,"s":3},{"t":"2019-03-01","v":70,"s":3},{"t":"2019-03-02","v":36,"s":3},{"t":"2019-03-03","v":106,"s":3},{"t":"2019-03-04","v":38,"s":3},{"t":"2019-03-05","v":68,"s":3},{"t":"2019-03-06","v":36,"s":3},{"t":"2019-03-07","v":72,"s":3},{"t":"2019-03-08","v":38,"s":3},{"t":"2019-03-09","v":66,"s":3},{"t":"2019-03-10","v":120,"s":3},{"t":"2019-03-11","v":37,"s":3},{"t":"2019-03-12","v":74,"s":3},{"t":"2019-03-13","v":39,"s":3},{"t":"2019-03-14","v":70,"s":3},{"t":"2019-03-15","v":36,"s":3},{"t":"2019-03-16","v":78,"s":3},{"t":"2019-03-17","v":38,"s":3},{"t":"2019-03-18","v":89,"s":3},{"t":"2019-03-19","v":40,"s":3},{"t":"2019-03-20","v":76,"s":3},{"t":"2019-03-21","v":38,"s":3},{"t":"2019-03-22","v":80,"s":3},{"t":"2019-03-23","v":42,"s":3},{"t":"2019-03-24","v":74,"s":3},{"t":"2019-03-25","v":133,"s":3},{"t":"2019-03-26","v":44,"s":3},{"t":"2019-03-27","v":76,"s":3},{"t":"2019-03-28","v":46,"s":3},{"t":"2019-03-29","v":80,"s":3},{"t":"2019-03-30","v":47,"s":3},{"t":"2019-03-31","v":78,"s":3},{"t":"2019-04-01","v":87,"s":3},{"t":"2019-04-02","v":49,"s":3},{"t":"2019-04-03","v":82,"s":3},{"t":"2019-04-04","v":52,"s":3},{"t":"2019-04-05","v":84,"s":3},{"t":"2019-04-06","v":97,"s":3},{"t":"2019-04-07","v":55,"s":3},{"t":"2019-04-08","v":86,"s":3},{"t":"2019-04-09","v":58,"s":3},{"t":"2019-04-10","v":149,"s":3},{"t":"2019-04-11","v":60,"s":3},{"t":"2019-04-12","v":84,"s":3},{"t":"2019-04-13","v":62,"s":3},{"t":"2019-04-14","v":88,"s":3},{"t":"2019-04-15","v":63,"s":3},{"t":"2019-04-16","v":80,"s":3},{"t":"2019-04-17","v":64,"s":3},{"t":"2019-04-18","v":90,"s":3},{"t":"2019-04-19","v":65,"s":3},{"t":"2019-04-20","v":86,"s":3},{"t":"2019-04-21","v":66,"s":3},{"t":"2019-04-22","v":92,"s":3},{"t":"2019-04-23","v":147,"s":3},{"t":"2019-04-24","v":67,"s":3},{"t":"2019-04-25","v":90,"s":3},{"t":"2019-04-26","v":70,"s":3},{"t":"2019-04-27","v":94,"s":3},{"t":"2019-04-28","v":72,"s":3},{"t":"2019-04-29","v":124,"s":3},{"t":"2019-04-30","v":74,"s":3},{"t":"2019-05-01","v":92,"s":3},{"t":"2019-05-02","v":75,"s":3},{"t":"2019-05-03","v":90,"s":3},{"t":"2019-05-04","v":97,"s":3},{"t":"2019-05-05","v":74,"s":3},{"t":"2019-05-06","v":96,"s":3},{"t":"2019-05-07","v":72,"s":3},{"t":"2019-05-08","v":100,"s":3},{"t":"2019-05-09","v":73,"s":3},{"t":"2019-05-10","v":98,"s":3},{"t":"2019-05-11","v":70,"s":3},{"t":"2019-05-12","v":104,"s":3},{"t":"2019-05-13","v":112,"s":3},{"t":"2019-05-14","v":70,"s":3},{"t":"2019-05-15","v":96,"s":3},{"t":"2019-05-16","v":72,"s":3},{"t":"2019-05-17","v":90,"s":3},{"t":"2019-05-18","v":146,"s":3},{"t":"2019-05-19","v":78,"s":3},{"t":"2019-05-20","v":82,"s":3},{"t":"2019-05-21","v":76,"s":3},{"t":"2019-05-22","v":80,"s":3},{"t":"2019-05-23","v":78,"s":3},{"t":"2019-05-24","v":30,"s":3},{"t":"2019-05-25","v":8,"s":3},{"t":"2019-05-27","v":7,"s":3},{"t":"2019-05-29","v":8,"s":3},{"t":"2019-05-31","v":6,"s":3},{"t":"2019-06-01","v":39,"s":3},{"t":"2019-06-02","v":7,"s":3},{"t":"2019-06-06","v":6,"s":3},{"t":"2019-06-12","v":5,"s":3},{"t":"2019-06-18","v":6,"s":3},{"t":"2019-06-24","v":5,"s":3},{"t":"2019-06-30","v":6,"s":3},{"t":"2019-07-06","v":6,"s":3},{"t":"2019-07-13","v":7,"s":3},{"t":"2019-07-14","v":31,"s":3},{"t":"2019-07-15","v":7,"s":3},{"t":"2019-07-22","v":6,"s":3},{"t":"2019-07-29","v":7,"s":3},{"t":"2019-08-05","v":7,"s":3},{"t":"2019-08-12","v":8,"s":3},{"t":"2019-08-18","v":7,"s":3},{"t":"2019-08-23","v":8,"s":3},{"t":"2019-08-25","v":13,"s":3},{"t":"2019-08-27","v":8,"s":3},{"t":"2019-09-02","v":7,"s":3},{"t":"2019-09-08","v":8,"s":3},{"t":"2019-09-14","v":6,"s":3},{"t":"2019-09-18","v":7,"s":3},{"t":"2019-09-22","v":5,"s":3},{"t":"2019-09-26","v":6,"s":3},{"t":"2019-09-29","v":5,"s":3},{"t":"2019-09-30","v":107,"s":3},{"t":"2019-10-01","v":85,"s":3},{"t":"2019-10-02","v":118,"s":3},{"t":"2019-10-03","v":88,"s":3},{"t":"2019-10-04","v":120,"s":3},{"t":"2019-10-05","v":84,"s":3},{"t":"2019-10-06","v":128,"s":3},{"t":"2019-10-07","v":136,"s":3},{"t":"2019-10-08","v":86,"s":3},{"t":"2019-10-09","v":125,"s":3},{"t":"2019-10-10","v":80,"s":3},{"t":"2019-10-11","v":149,"s":3},{"t":"2019-10-12","v":84,"s":3},{"t":"2019-10-13","v":122,"s":3},{"t":"2019-10-14","v":82,"s":3},{"t":"2019-10-15","v":118,"s":3},{"t":"2019-10-16","v":140,"s":3},{"t":"2019-10-17","v":88,"s":3},{"t":"2019-10-18","v":112,"s":3},{"t":"2019-10-19","v":85,"s":3},{"t":"2019-10-20","v":110,"s":3},{"t":"2019-10-21","v":78,"s":3},{"t":"2019-10-22","v":108,"s":3},{"t":"2019-10-23","v":76,"s":3},{"t":"2019-10-24","v":113,"s":3},{"t":"2019-10-25","v":78,"s":3},{"t":"2019-10-26","v":105,"s":3},{"t":"2019-10-27","v":74,"s":3},{"t":"2019-10-28","v":100,"s":3},{"t":"2019-10-29","v":80,"s":3},{"t":"2019-10-30","v":168,"s":3},{"t":"2019-10-31","v":88,"s":3},{"t":"2019-11-01","v":120,"s":3},{"t":"2019-11-02","v":95,"s":3},{"t":"2019-11-03","v":132,"s":3},{"t":"2019-11-04","v":100,"s":3},{"t":"2019-11-05","v":126,"s":3},{"t":"2019-11-06","v":102,"s":3},{"t":"2019-11-07","v":128,"s":3},{"t":"2019-11-08","v":104,"s":3},{"t":"2019-11-09","v":130,"s":3},{"t":"2019-11-10","v":102,"s":3},{"t":"2019-11-11","v":120,"s":3},{"t":"2019-11-12","v":110,"s":3},{"t":"2019-11-13","v":197,"s":3},{"t":"2019-11-14","v":118,"s":3},{"t":"2019-11-15","v":150,"s":3},{"t":"2019-11-16","v":120,"s":3},{"t":"2019-11-17","v":176,"s":3},{"t":"2019-11-18","v":118,"s":3},{"t":"2019-11-19","v":160,"s":3},{"t":"2019-11-20","v":116,"s":3},{"t":"2019-11-21","v":158,"s":3},{"t":"2019-11-22","v":115,"s":3},{"t":"2019-11-23","v":140,"s":3},{"t":"2019-11-24","v":105,"s":3},{"t":"2019-11-25","v":133,"s":3},{"t":"2019-11-26","v":95,"s":3},{"t":"2019-11-27","v":128,"s":3},{"t":"2019-11-28","v":88,"s":3},{"t":"2019-11-29","v":120,"s":3},{"t":"2019-11-30","v":85,"s":3},{"t":"2019-12-01","v":110,"s":3},{"t":"2019-12-02","v":84,"s":3},{"t":"2019-12-03","v":125,"s":3},{"t":"2019-12-04","v":150,"s":3},{"t":"2019-12-05","v":175,"s":3},{"t":"2019-12-06","v":241,"s":3},{"t":"2019-12-07","v":170,"s":3},{"t":"2019-12-08","v":215,"s":3},{"t":"2019-12-09","v":165,"s":3},{"t":"2019-12-10","v":200,"s":3},{"t":"2019-12-11","v":220,"s":3},{"t":"2019-12-12","v":160,"s":3},{"t":"2019-12-13","v":190,"s":3},{"t":"2019-12-14","v":150,"s":3},{"t":"2019-12-15","v":180,"s":3},{"t":"2019-12-16","v":155,"s":3},{"t":"2019-12-17","v":207,"s":3},{"t":"2019-12-18","v":140,"s":3},{"t":"2019-12-19","v":170,"s":3},{"t":"2019-12-20","v":136,"s":3},{"t":"2019-12-21","v":175,"s":3},{"t":"2019-12-22","v":235,"s":3},{"t":"2019-12-23","v":160,"s":3},{"t":"2019-12-24","v":178,"s":3},{"t":"2019-12-25","v":150,"s":3},{"t":"2019-12-26","v":176,"s":3},{"t":"2019-12-27","v":152,"s":3},{"t":"2019-12-28","v":175,"s":3},{"t":"2019-12-29","v":150,"s":3},{"t":"2019-12-30","v":172,"s":3},{"t":"2019-12-31","v":150,"s":3},{"t":"2020-01-01","v":185,"s":3},{"t":"2020-01-02","v":201,"s":3},{"t":"2020-01-03","v":140,"s":3},{"t":"2020-01-04","v":170,"s":3},{"t":"2020-01-05","v":118,"s":3},{"t":"2020-01-06","v":150,"s":3},{"t":"2020-01-07","v":115,"s":3},{"t":"2020-01-08","v":118,"s":3},{"t":"2020-01-09","v":100,"s":3},{"t":"2020-01-10","v":112,"s":3},{"t":"2020-01-11","v":88,"s":3},{"t":"2020-01-12","v":110,"s":3},{"t":"2020-01-13","v":80,"s":3},{"t":"2020-01-14","v":105,"s":3},{"t":"2020-01-15","v":78,"s":3},{"t":"2020-01-16","v":102,"s":3},{"t":"2020-01-17","v":76,"s":3},{"t":"2020-01-18","v":100,"s":3},{"t":"2020-01-19","v":74,"s":3},{"t":"2020-01-20","v":98,"s":3},{"t":"2020-01-21","v":75,"s":3},{"t":"2020-01-22","v":95,"s":3},{"t":"2020-01-23","v":73,"s":3},{"t":"2020-01-24","v":92,"s":3},{"t":"2020-01-25","v":72,"s":3},{"t":"2020-01-26","v":90,"s":3},{"t":"2020-01-27","v":70,"s":3},{"t":"2020-01-28","v":88,"s":3},{"t":"2020-01-29","v":68,"s":3},{"t":"2020-01-30","v":85,"s":3},{"t":"2020-01-31","v":55,"s":3},{"t":"2020-02-01","v":86,"s":3},{"t":"2020-02-02","v":68,"s":3},{"t":"2020-02-03","v":90,"s":3},{"t":"2020-02-04","v":66,"s":3},{"t":"2020-02-05","v":84,"s":3},{"t":"2020-02-06","v":68,"s":3},{"t":"2020-02-07","v":80,"s":3},{"t":"2020-02-08","v":233,"s":3},{"t":"2020-02-09","v":66,"s":3},{"t":"2020-02-10","v":85,"s":3},{"t":"2020-02-11","v":64,"s":3},{"t":"2020-02-12","v":84,"s":3},{"t":"2020-02-13","v":63,"s":3},{"t":"2020-02-14","v":88,"s":3},{"t":"2020-02-15","v":62,"s":3},{"t":"2020-02-16","v":84,"s":3},{"t":"2020-02-17","v":63,"s":3},{"t":"2020-02-18","v":85,"s":3},{"t":"2020-02-19","v":64,"s":3},{"t":"2020-02-20","v":92,"s":3},{"t":"2020-02-21","v":62,"s":3},{"t":"2020-02-22","v":104,"s":3},{"t":"2020-02-23","v":61,"s":3},{"t":"2020-02-24","v":96,"s":3},{"t":"2020-02-25","v":63,"s":3},{"t":"2020-02-26","v":110,"s":3},{"t":"2020-02-27","v":62,"s":3},{"t":"2020-02-28","v":100,"s":3},{"t":"2020-02-29","v":64,"s":3},{"t":"2020-03-01","v":106,"s":3},{"t":"2020-03-02","v":118,"s":3},{"t":"2020-03-03","v":62,"s":3},{"t":"2020-03-04","v":98,"s":3},{"t":"2020-03-05","v":63,"s":3},{"t":"2020-03-06","v":112,"s":3},{"t":"2020-03-07","v":62,"s":3},{"t":"2020-03-08","v":94,"s":3},{"t":"2020-03-09","v":64,"s":3},{"t":"2020-03-10","v":118,"s":3},{"t":"2020-03-11","v":62,"s":3},{"t":"2020-03-12","v":90,"s":3},{"t":"2020-03-13","v":60,"s":3},{"t":"2020-03-14","v":100,"s":3},{"t":"2020-03-15","v":140,"s":3},{"t":"2020-03-16","v":62,"s":3},{"t":"2020-03-17","v":82,"s":3},{"t":"2020-03-18","v":60,"s":3},{"t":"2020-03-19","v":80,"s":3},{"t":"2020-03-20","v":58,"s":3},{"t":"2020-03-21","v":78,"s":3},{"t":"2020-03-22","v":56,"s":3},{"t":"2020-03-23","v":75,"s":3},{"t":"2020-03-24","v":55,"s":3},{"t":"2020-03-25","v":72,"s":3},{"t":"2020-03-26","v":54,"s":3},{"t":"2020-03-27","v":70,"s":3},{"t":"2020-03-28","v":56,"s":3},{"t":"2020-03-29","v":74,"s":3},{"t":"2020-03-30","v":115,"s":3},{"t":"2020-03-31","v":56,"s":3},{"t":"2020-04-01","v":70,"s":3},{"t":"2020-04-02","v":55,"s":3},{"t":"2020-04-03","v":72,"s":3},{"t":"2020-04-04","v":53,"s":3},{"t":"2020-04-05","v":70,"s":3},{"t":"2020-04-06","v":52,"s":3},{"t":"2020-04-07","v":75,"s":3},{"t":"2020-04-08","v":54,"s":3},{"t":"2020-04-09","v":70,"s":3},{"t":"2020-04-10","v":53,"s":3},{"t":"2020-04-11","v":68,"s":3},{"t":"2020-04-12","v":55,"s":3},{"t":"2020-04-13","v":72,"s":3},{"t":"2020-04-14","v":58,"s":3},{"t":"2020-04-15","v":70,"s":3},{"t":"2020-04-16","v":171,"s":3},{"t":"2020-04-17","v":60,"s":3},{"t":"2020-04-18","v":75,"s":3},{"t":"2020-04-19","v":62,"s":3},{"t":"2020-04-20","v":73,"s":3},{"t":"2020-04-21","v":148,"s":3},{"t":"2020-04-22","v":50,"s":3},{"t":"2020-04-23","v":30,"s":3},{"t":"2020-04-24","v":16,"s":3},{"t":"2020-04-26","v":10,"s":3},{"t":"2020-04-28","v":12,"s":3},{"t":"2020-04-30","v":5,"s":3},{"t":"2020-05-03","v":8,"s":3},{"t":"2020-05-06","v":3,"s":3},{"t":"2020-05-09","v":5,"s":3},{"t":"2020-05-12","v":2,"s":3},{"t":"2020-05-15","v":4,"s":3},{"t":"2020-05-18","v":2,"s":3},{"t":"2020-05-21","v":4,"s":3},{"t":"2020-05-24","v":2,"s":3},{"t":"2020-05-27","v":5,"s":3},{"t":"2020-05-30","v":2,"s":3},{"t":"2020-06-02","v":4,"s":3},{"t":"2020-06-05","v":2,"s":3},{"t":"2020-06-08","v":4,"s":3},{"t":"2020-06-11","v":3,"s":3},{"t":"2020-06-13","v":4,"s":3}
]},
"mark":{"type":"line","color":"black","strokeWidth":1.6,"clip":true},
"encoding":{
"x":{"field":"t","type":"temporal","scale":{"domain":[{"year":2013,"month":1,"date":1},{"year":2020,"month":8,"date":26}],"nice":false},
"axis":{"values":[{"year":2014,"month":1,"date":1},{"year":2015,"month":1,"date":1},{"year":2016,"month":1,"date":1},{"year":2017,"month":1,"date":1},{"year":2018,"month":1,"date":1},{"year":2019,"month":1,"date":1},{"year":2020,"month":1,"date":1}],"format":"%b %Y","labelAngle":270,"labelAlign":"right","labelBaseline":"middle","labelPadding":9,"tickSize":8,"tickColor":"black","domainColor":"black","labelColor":"black","labelFont":"Liberation Sans","labelFontSize":15,"labelOverlap":false,"labelFlush":false,"grid":false,"title":"Year","titleFont":"Liberation Sans","titleFontSize":15,"titleFontWeight":"normal","titleColor":"black","titleX":511,"titleY":72,"titleAlign":"center","titleBaseline":"alphabetic"}},
"y":{"field":"v","type":"quantitative","scale":{"domain":[-10.9,285.6],"nice":false,"zero":false},
"axis":{"values":[0,50,100,150,200,250],"labelAngle":270,"labelAlign":"center","labelBaseline":"alphabetic","labelPadding":16,"tickSize":9,"tickColor":"black","domainColor":"black","labelColor":"black","labelFont":"Liberation Sans","labelFontSize":15,"grid":false,"title":"Pump Rate (l/s)","titleFont":"Liberation Sans","titleFontSize":15,"titleFontWeight":"normal","titleColor":"black","titleAngle":270,"titleX":-74,"titleY":299,"titleAlign":"center","titleBaseline":"middle"}},
"detail":{"field":"s","type":"nominal"}
}},
{"data":{"values":[{}]},"mark":{"type":"rule","color":"#FF0000","strokeWidth":1.5},"encoding":{"y":{"datum":250,"type":"quantitative"}}},
{"data":{"values":[{}]},"mark":{"type":"rule","color":"#FF0000","strokeWidth":1.5,"strokeDash":[7,4]},"encoding":{"y":{"datum":275,"type":"quantitative"}}},
{"data":{"values":[{}]},"mark":{"type":"rule","color":"black","strokeWidth":1.2},"encoding":{"y":{"datum":285.6,"type":"quantitative"}}}
]
}
